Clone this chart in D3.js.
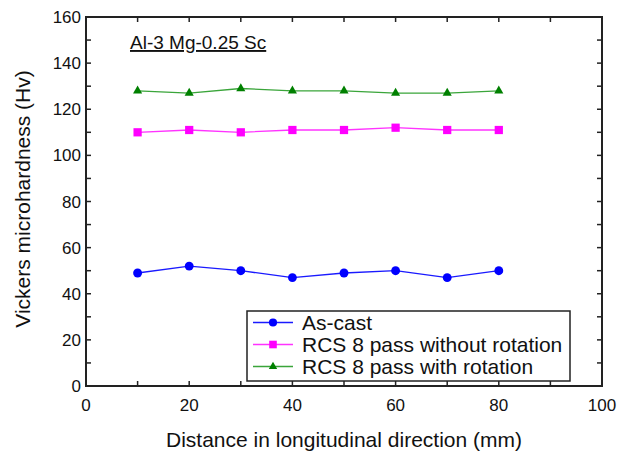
<!DOCTYPE html>
<html>
<head>
<meta charset="utf-8">
<script src="https://cdn.jsdelivr.net/npm/d3@7"></script>
<style>
  body { margin: 0; background: #fff; }
  text { font-family: "Liberation Sans", Arial, sans-serif; fill: #111; }
</style>
</head>
<body>
<div id="chart"></div>
<script>
// data
var distance = [10, 20, 30, 40, 50, 60, 70, 80];
var asCast = [49, 52, 50, 47, 49, 50, 47, 50];
var noRotation = [110, 111, 110, 111, 111, 112, 111, 111];
var withRotation = [128, 127, 129, 128, 128, 127, 127, 128];
var seriesNames = ["As-cast", "RCS 8 pass without rotation", "RCS 8 pass with rotation"];
var xTicks = [0, 20, 40, 60, 80, 100];
var yTicks = [0, 20, 40, 60, 80, 100, 120, 140, 160];

var W = 618, H = 453;
var margin = {top: 17, right: 16, bottom: 67, left: 86};

var svg = d3.select("#chart").append("svg")
  .attr("width", W).attr("height", H);

var x = d3.scaleLinear().domain([0, 100]).range([margin.left, W - margin.right]);
var y = d3.scaleLinear().domain([0, 160]).range([H - margin.bottom, margin.top]);

var series = [
  {name: seriesNames[0], values: asCast, line: "#1a1aff", fill: "#0000ff", shape: d3.symbolCircle, size: 62},
  {name: seriesNames[1], values: noRotation, line: "#ff33ff", fill: "#ff00ff", shape: d3.symbolSquare, size: 68},
  {name: seriesNames[2], values: withRotation, line: "#3aa53a", fill: "#008000", shape: d3.symbolTriangle, size: 36}
];

// ticks (inward, all four sides)
var minorX = d3.range(10, 100, 10);
var minorY = d3.range(10, 160, 10);
var tl = 5;
var g = svg.append("g").attr("stroke", "#222").attr("stroke-width", 1.5);
minorX.forEach(function(v) {
  g.append("line").attr("x1", x(v)).attr("x2", x(v)).attr("y1", y(0)).attr("y2", y(0) - tl);
  g.append("line").attr("x1", x(v)).attr("x2", x(v)).attr("y1", y(160)).attr("y2", y(160) + tl);
});
minorY.forEach(function(v) {
  g.append("line").attr("x1", x(0)).attr("x2", x(0) + tl).attr("y1", y(v)).attr("y2", y(v));
  g.append("line").attr("x1", x(100)).attr("x2", x(100) - tl).attr("y1", y(v)).attr("y2", y(v));
});

svg.append("rect")
  .attr("x", x(0)).attr("y", y(160))
  .attr("width", x(100) - x(0)).attr("height", y(0) - y(160))
  .attr("fill", "none").attr("stroke", "#222").attr("stroke-width", 2);

// tick labels
svg.selectAll(".xl").data(xTicks).enter().append("text")
  .attr("x", function(d) { return x(d); })
  .attr("y", y(0) + 25)
  .attr("text-anchor", "middle")
  .style("font-size", "17px")
  .text(function(d) { return d; });

svg.selectAll(".yl").data(yTicks).enter().append("text")
  .attr("x", x(0) - 5)
  .attr("y", function(d) { return y(d) + 6; })
  .attr("text-anchor", "end")
  .style("font-size", "17px")
  .text(function(d) { return d; });

// axis titles
svg.append("text")
  .attr("x", 344).attr("y", 447)
  .attr("text-anchor", "middle")
  .style("font-size", "21px")
  .text("Distance in longitudinal direction (mm)");

svg.append("text")
  .attr("transform", "translate(30,199) rotate(-90)")
  .attr("text-anchor", "middle")
  .style("font-size", "21px")
  .text("Vickers microhardness (Hv)");

// annotation
svg.append("text")
  .attr("x", 130).attr("y", 49)
  .style("font-size", "19px")
  .style("text-decoration", "underline")
  .text("Al-3 Mg-0.25 Sc");

// series
var line = d3.line()
  .x(function(d, i) { return x(distance[i]); })
  .y(function(d) { return y(d); });

series.forEach(function(s) {
  svg.append("path").datum(s.values)
    .attr("d", line)
    .attr("fill", "none")
    .attr("stroke", s.line)
    .attr("stroke-width", 1.3);
  svg.selectAll(null).data(s.values).enter().append("path")
    .attr("d", d3.symbol().type(s.shape).size(s.size))
    .attr("transform", function(d, i) { return "translate(" + x(distance[i]) + "," + y(d) + ")"; })
    .attr("fill", s.fill);
});

// legend
var lg = svg.append("g");
lg.append("rect")
  .attr("x", 247).attr("y", 311).attr("width", 323).attr("height", 70)
  .attr("fill", "#fff").attr("stroke", "#222").attr("stroke-width", 1.5);
series.forEach(function(s, i) {
  var ly = 322.5 + i * 22;
  lg.append("line").attr("x1", 253).attr("x2", 293).attr("y1", ly).attr("y2", ly)
    .attr("stroke", s.line).attr("stroke-width", 1.3);
  lg.append("path")
    .attr("d", d3.symbol().type(s.shape).size(s.size * 0.85))
    .attr("transform", "translate(273," + ly + ")")
    .attr("fill", s.fill);
  lg.append("text")
    .attr("x", 302).attr("y", ly + 7.5)
    .style("font-size", "21px")
    .text(s.name);
});
</script>
</body>
</html>
